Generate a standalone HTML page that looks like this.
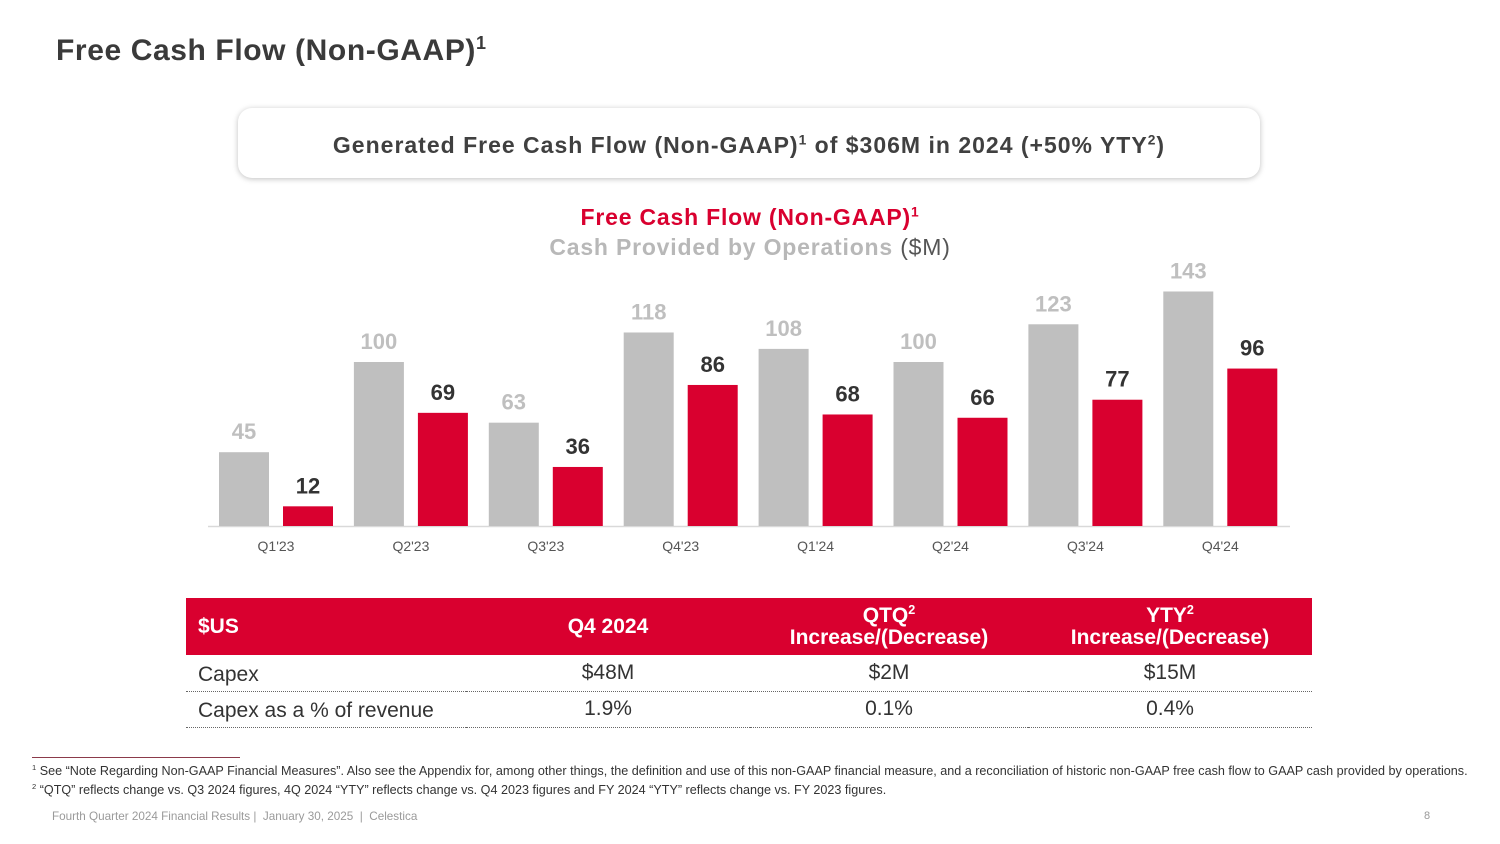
<!DOCTYPE html>
<html><head><meta charset="utf-8"><style>
body{margin:0;width:1500px;height:844px;background:#fff;font-family:"Liberation Sans",Arial,sans-serif;position:relative;overflow:hidden}
.abs{position:absolute}
sup{font-size:60%;vertical-align:super;line-height:0}
table{border-collapse:collapse;table-layout:fixed}
</style></head><body>
<div class="abs" style="left:56px;top:34px;font-size:30px;font-weight:bold;color:#3a3a3a;letter-spacing:0.6px">Free Cash Flow (Non-GAAP)<sup>1</sup></div>
<div class="abs" style="left:238px;top:108px;width:1022px;height:70px;border-radius:14px;box-shadow:0 1px 6px rgba(0,0,0,0.25);background:#fff;text-align:center;line-height:74px;font-size:23px;font-weight:bold;color:#404040;letter-spacing:1px">Generated Free Cash Flow (Non-GAAP)<sup>1</sup> of $306M in 2024 (+50% YTY<sup>2</sup>)</div>
<div class="abs" style="left:0;width:1500px;top:204px;text-align:center;font-size:23px;font-weight:bold;color:#d9002f;letter-spacing:0.8px">Free Cash Flow (Non-GAAP)<sup>1</sup></div>
<div class="abs" style="left:0;width:1500px;top:234px;text-align:center;font-size:23px;font-weight:bold;color:#b8b8b8;letter-spacing:0.8px">Cash Provided by Operations <span style="font-weight:normal;color:#555">($M)</span></div>
<svg class="abs" style="left:0;top:0" width="1500" height="844" id="chart"></svg>
<table class="abs" style="left:186px;top:598px;width:1126px;font-size:21px;color:#333">
<colgroup><col style="width:280px"><col style="width:284px"><col style="width:278px"><col style="width:284px"></colgroup>
<tr style="background:#d9002f;color:#fff;font-weight:bold;height:57px">
<td style="padding-left:12px">$US</td><td style="text-align:center">Q4 2024</td><td style="text-align:center;line-height:22px">QTQ<sup>2</sup><br>Increase/(Decrease)</td><td style="text-align:center;line-height:22px">YTY<sup>2</sup><br>Increase/(Decrease)</td></tr>
<tr style="height:36px;border-bottom:1px dotted #666"><td style="padding-left:12px;padding-top:6px">Capex</td><td style="text-align:center">$48M</td><td style="text-align:center">$2M</td><td style="text-align:center">$15M</td></tr>
<tr style="height:36px;border-bottom:1px dotted #666"><td style="padding-left:12px;padding-top:4px;white-space:nowrap">Capex as a % of revenue</td><td style="text-align:center">1.9%</td><td style="text-align:center">0.1%</td><td style="text-align:center">0.4%</td></tr>
</table>
<div class="abs" style="left:32px;top:757px;width:208px;height:1px;background:#8b3a4a"></div>
<div class="abs" style="left:32px;top:764px;font-size:12.6px;color:#333;white-space:nowrap"><sup>1</sup> See “Note Regarding Non-GAAP Financial Measures”. Also see the Appendix for, among other things, the definition and use of this non-GAAP financial measure, and a reconciliation of historic non-GAAP free cash flow to GAAP cash provided by operations.</div>
<div class="abs" style="left:32px;top:783px;font-size:12.6px;color:#333;white-space:nowrap"><sup>2</sup> “QTQ” reflects change vs. Q3 2024 figures, 4Q 2024 “YTY” reflects change vs. Q4 2023 figures and FY 2024 “YTY” reflects change vs. FY 2023 figures.</div>
<div class="abs" style="left:52px;top:810px;font-size:11.7px;color:#9a9a9a">Fourth Quarter 2024 Financial Results |&nbsp; January 30, 2025 &nbsp;|&nbsp; Celestica</div>
<div class="abs" style="left:1424px;top:810px;font-size:11px;color:#9a9a9a">8</div>
<script>
const categories=["Q1'23","Q2'23","Q3'23","Q4'23","Q1'24","Q2'24","Q3'24","Q4'24"];
const cashOps=[45,100,63,118,108,100,123,143];
const fcf=[12,69,36,86,68,66,77,96];
const svg=document.getElementById('chart');
const NS='http://www.w3.org/2000/svg';
const base=526, scale=1.64, x0=276, step=134.9, bw=50;
const yv=v=>base-v*scale;
const xc=i=>x0+i*step;
function mk(t,a){const e=document.createElementNS(NS,t);for(const k in a)e.setAttribute(k,a[k]);svg.appendChild(e);return e;}
const ax=mk('line',{x1:208,x2:1290,y1:base+0.5,y2:base+0.5,stroke:'#d9d9d9','stroke-width':1.5});


categories.forEach((c,i)=>{
  const g=mk('rect',{x:xc(i)-32-bw/2,y:yv(cashOps[i]),width:bw,height:cashOps[i]*scale,fill:'#bfbfbf'});
  
  
  const r=mk('rect',{x:xc(i)+32-bw/2,y:yv(fcf[i]),width:bw,height:fcf[i]*scale,fill:'#d9002f'});
  
  
  const t1=mk('text',{x:xc(i)-32,y:yv(cashOps[i])-13,'text-anchor':'middle','font-size':22,'font-weight':'bold',fill:'#bfbfbf','font-family':'Liberation Sans, sans-serif'});
  t1.textContent=cashOps[i];
  
  
  const t2=mk('text',{x:xc(i)+32,y:yv(fcf[i])-13,'text-anchor':'middle','font-size':22,'font-weight':'bold',fill:'#333','font-family':'Liberation Sans, sans-serif'});
  t2.textContent=fcf[i];
  
  
  const tl=mk('text',{x:xc(i),y:551,'text-anchor':'middle','font-size':14,fill:'#555','font-family':'Liberation Sans, sans-serif'});
  tl.textContent=c;
  
  
});
</script>
</body></html>
